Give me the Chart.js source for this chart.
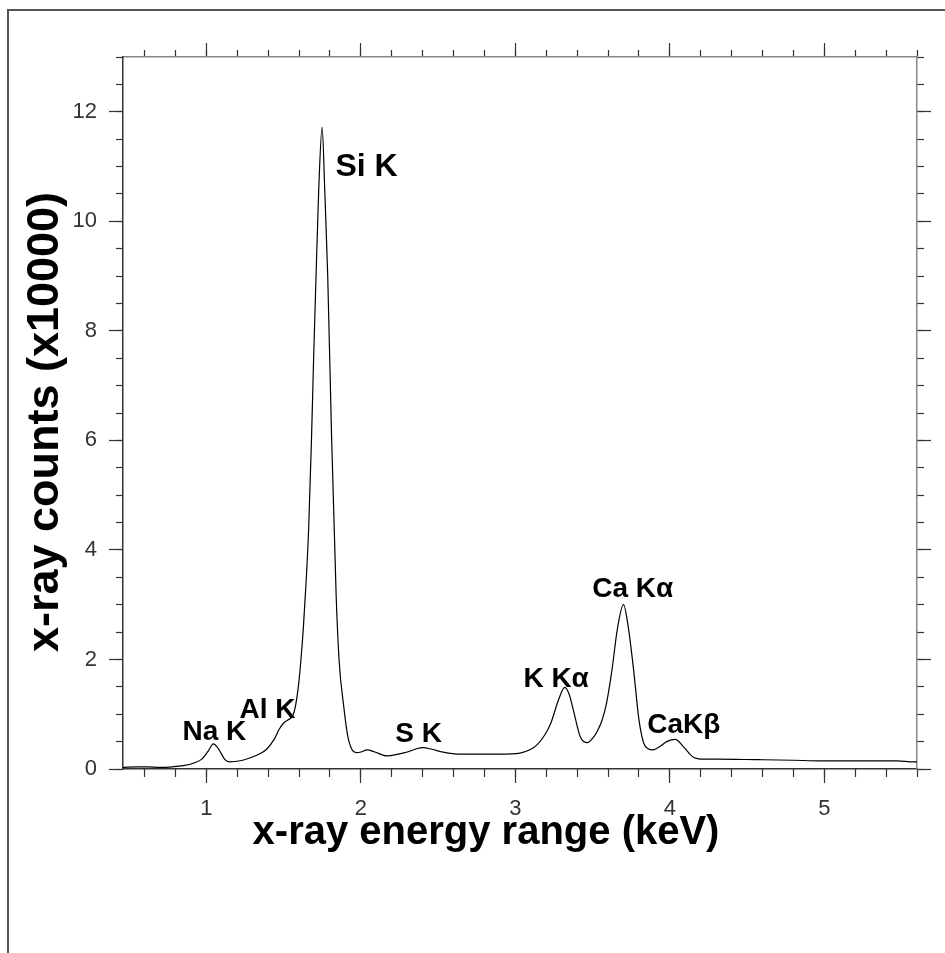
<!DOCTYPE html>
<html>
<head>
<meta charset="utf-8">
<script src="https://cdn.jsdelivr.net/npm/chart.js@4"></script>
<style>
body { margin: 0; background: #fff; }
#frame { position: absolute; left: 7px; top: 9px; width: 940px; height: 944px; border-left: 2px solid #555; border-top: 2px solid #555; }
#chart { position: absolute; left: 0; top: 0; }
</style>
</head>
<body>
<div id="frame"></div>
<canvas id="chart" width="945" height="953"></canvas>
<script>
// spectrum (keV / counts x10000)
const energy = [0.46, 0.55, 0.62, 0.70, 0.78, 0.85, 0.92, 0.97, 1.01, 1.045,
    1.08, 1.12, 1.15, 1.22, 1.28, 1.34, 1.39, 1.44, 1.47, 1.50,
    1.53, 1.56, 1.576, 1.595, 1.612, 1.628, 1.645, 1.662, 1.68, 1.695,
    1.71, 1.727, 1.749, 1.766, 1.785, 1.81, 1.84, 1.86, 1.889, 1.915,
    1.943, 1.97, 2.00, 2.04, 2.09, 2.17, 2.24, 2.30, 2.36, 2.40,
    2.46, 2.53, 2.64, 2.77, 2.90, 3.03, 3.10, 3.14, 3.19, 3.23,
    3.28, 3.32, 3.35, 3.375, 3.42, 3.466, 3.50, 3.53, 3.56, 3.59,
    3.625, 3.66, 3.70, 3.73, 3.765, 3.80, 3.83, 3.86, 3.89, 3.94,
    3.98, 4.035, 4.09, 4.15, 4.22, 4.30, 4.57, 4.80, 4.97, 5.20,
    5.47, 5.58, 5.60];
const counts = [0.03, 0.04, 0.04, 0.03, 0.04, 0.06, 0.11, 0.18, 0.32, 0.46,
    0.36, 0.17, 0.13, 0.15, 0.20, 0.27, 0.36, 0.55, 0.72, 0.84,
    0.90, 0.98, 1.14, 1.50, 2.00, 2.60, 3.40, 4.40, 6.00, 7.60,
    9.03, 10.57, 11.72, 10.57, 9.03, 6.10, 3.16, 1.94, 1.14, 0.60,
    0.35, 0.30, 0.31, 0.35, 0.31, 0.24, 0.27, 0.31, 0.37, 0.39,
    0.36, 0.31, 0.27, 0.27, 0.27, 0.29, 0.36, 0.44, 0.62, 0.84,
    1.27, 1.49, 1.35, 1.08, 0.59, 0.48, 0.56, 0.69, 0.88, 1.20,
    1.80, 2.55, 3.00, 2.61, 1.82, 0.90, 0.48, 0.37, 0.35, 0.42,
    0.50, 0.54, 0.40, 0.22, 0.18, 0.18, 0.17, 0.16, 0.15, 0.15,
    0.15, 0.13, 0.13];

const xMajor = [1, 2, 3, 4, 5];
const xMinor = [0.6, 0.8, 1, 1.2, 1.4, 1.6, 1.8, 2, 2.2, 2.4, 2.6, 2.8, 3, 3.2, 3.4,
    3.6, 3.8, 4, 4.2, 4.4, 4.6, 4.8, 5, 5.2, 5.4, 5.6];
const yMajor = [0, 2, 4, 6, 8, 10, 12];
const yMinor = [0, 0.5, 1, 1.5, 2, 2.5, 3, 3.5, 4, 4.5, 5, 5.5, 6, 6.5, 7, 7.5, 8, 8.5,
    9, 9.5, 10, 10.5, 11, 11.5, 12, 12.5, 13];

// peak names and where they sit (data units, left edge / middle of text)
const peakNames = ['Na K', 'Al K', 'Si K', 'S K', 'K K\u03b1', 'Ca K\u03b1', 'CaK\u03b2'];
const peakLabelX = [0.845, 1.214, 1.835, 2.223, 3.052, 3.498, 3.854];
const peakLabelY = [0.67, 1.07, 10.99, 0.63, 1.64, 3.29, 0.79];

const xTitle = 'x-ray energy range (keV)';
const yTitle = 'x-ray counts (x10000)';

const xMin = 0.46, xMax = 5.6, yMin = 0, yMax = 13;
const FONT = '"Liberation Sans", Arial, sans-serif';

function setTicks(list) {
    return function (s) { s.ticks = list.map(v => ({ value: v })); };
}
function fixSize(n) {
    return function (s) { if (s.isHorizontal()) s.height = n; else s.width = n; };
}

function tickAxis(pos, list, len, size, weight, color) {
    return {
        type: 'linear',
        position: pos,
        min: (pos == 'top' || pos == 'bottom') ? xMin : yMin,
        max: (pos == 'top' || pos == 'bottom') ? xMax : yMax,
        weight: weight,
        afterBuildTicks: setTicks(list),
        afterFit: fixSize(size),
        grid: { drawOnChartArea: false, tickLength: len, tickColor: '#333', tickWidth: 1.2 },
        border: { display: weight > 0, color: color, width: 1.5 },
        ticks: { display: false, autoSkip: false }
    };
}

const labelsPlugin = {
    id: 'labelsPlugin',
    afterDatasetsDraw(chart) {
        const ctx = chart.ctx;
        const sx = chart.scales.x, sy = chart.scales.y;
        const area = chart.chartArea;
        ctx.save();
        ctx.fillStyle = '#000';
        ctx.textAlign = 'left';
        ctx.textBaseline = 'middle';
        peakNames.forEach((name, i) => {
            const size = name == 'Si K' ? 32 : 28;
            ctx.font = 'bold ' + size + 'px ' + FONT;
            ctx.fillText(name, sx.getPixelForValue(peakLabelX[i]), sy.getPixelForValue(peakLabelY[i]));
        });

        // axis titles
        ctx.textAlign = 'center';
        ctx.font = 'bold 40px ' + FONT;
        ctx.fillText(xTitle, (area.left + area.right) / 2 - 34, area.bottom + 64);
        ctx.translate(area.left - 77, (area.top + area.bottom) / 2 + 9);
        ctx.rotate(-Math.PI / 2);
        ctx.font = 'bold 45px ' + FONT;
        ctx.fillText(yTitle, 0, 0);
        ctx.restore();
    }
};

const xBottom = tickAxis('bottom', xMajor, 14, 90, 1, '#333');
xBottom.ticks = { display: true, autoSkip: false, maxRotation: 0, padding: 13, color: '#333',
    font: { family: FONT, size: 22 } };

const yLeft = tickAxis('left', yMajor, 14, 115, 1, '#333');
yLeft.ticks = { display: true, autoSkip: false, padding: 12, color: '#333',
    font: { family: FONT, size: 22 } };

new Chart(document.getElementById('chart'), {
    type: 'line',
    data: {
        datasets: [{
            data: energy.map((e, i) => ({ x: e, y: counts[i] })),
            borderColor: '#000',
            borderWidth: 1.2,
            pointRadius: 0,
            cubicInterpolationMode: 'monotone',
            fill: false
        }]
    },
    plugins: [labelsPlugin],
    options: {
        responsive: false,
        animation: false,
        layout: { padding: { top: 37, bottom: 94, left: 8, right: 8 } },
        plugins: { legend: { display: false }, tooltip: { enabled: false } },
        scales: {
            x: xBottom,
            xMinor: tickAxis('bottom', xMinor, 8, 0, 0, '#333'),
            xTop: tickAxis('top', xMajor, 14, 20, 1, '#888'),
            xTopMinor: tickAxis('top', xMinor, 7, 0, 0, '#888'),
            y: yLeft,
            yMinor: tickAxis('left', yMinor, 7, 0, 0, '#333'),
            yRight: tickAxis('right', yMajor, 14, 20, 1, '#888'),
            yRightMinor: tickAxis('right', yMinor, 7, 0, 0, '#888')
        }
    }
});
</script>
</body>
</html>
